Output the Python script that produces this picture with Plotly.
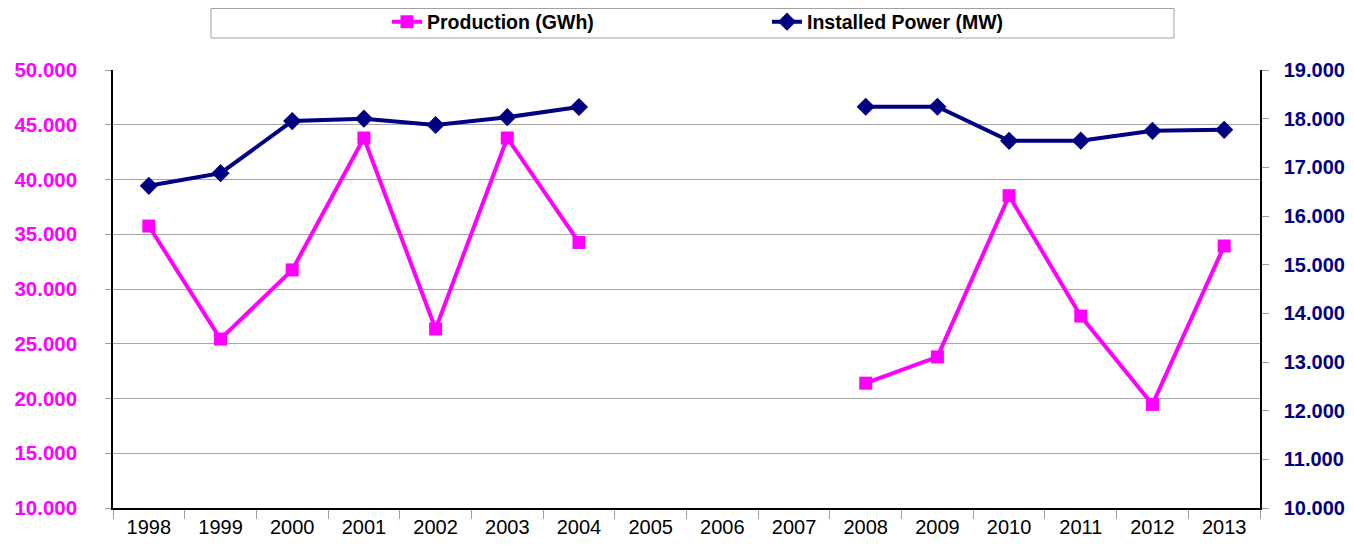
import plotly.graph_objects as go

years = ["1998", "1999", "2000", "2001", "2002", "2003", "2004", "2005",
         "2006", "2007", "2008", "2009", "2010", "2011", "2012", "2013"]
production_gwh = [35750, 25430, 31740, 43790, 26350, 43790, 34250, None,
                  None, None, 21400, 23800, 38520, 27530, 19460, 33930]
installed_mw = [16620, 16880, 17950, 18000, 17870, 18030, 18240, None,
                None, None, 18245, 18245, 17545, 17547, 17750, 17770]

left_ticks = [10000, 15000, 20000, 25000, 30000, 35000, 40000, 45000, 50000]
right_ticks = [10000, 11000, 12000, 13000, 14000, 15000, 16000, 17000, 18000, 19000]

# page has an 8px body margin; figure sized to fit the 1354x546 window
OFF = 8
W, H = 1346, 530
ML, MR, MT, MB = 113 - OFF, 94, 70 - OFF, 30
PW = W - ML - MR
PH = H - MT - MB


def px_x(p):  # page pixel -> paper x
    return (p - OFF - ML) / PW


def px_y(p):  # page pixel -> paper y
    return (H - MB - (p - OFF)) / PH


FONT = "Liberation Sans, Arial, sans-serif"
MAGENTA = "#FF00FF"
NAVY = "#000080"

fig = go.Figure()
fig.add_trace(go.Scatter(
    x=years, y=production_gwh, name="Production (GWh)",
    mode="lines+markers",
    line=dict(color=MAGENTA, width=4),
    marker=dict(symbol="square", size=13, color=MAGENTA),
    connectgaps=False, yaxis="y", legend="legend",
))
fig.add_trace(go.Scatter(
    x=years, y=installed_mw, name="Installed Power (MW)",
    mode="lines+markers",
    line=dict(color=NAVY, width=4),
    marker=dict(symbol="diamond", size=14, color=NAVY),
    connectgaps=False, yaxis="y2", legend="legend2",
))

# legend frame
fig.add_shape(type="rect", xref="paper", yref="paper",
              x0=px_x(211), x1=px_x(1174), y0=px_y(38), y1=px_y(8.5),
              line=dict(color="#a0a0a0", width=1), fillcolor="white", layer="below")

legend_font = dict(family=FONT, size=19.5, color="black", weight="bold")
leg_y = (H - (22 - OFF)) / H

fig.update_layout(
    width=W, height=H,
    margin=dict(l=ML, r=MR, t=MT, b=MB, autoexpand=False),
    paper_bgcolor="white", plot_bgcolor="white",
    separators=",.",
    showlegend=True,
    legend=dict(xref="container", yref="container",
                x=379 / W, y=leg_y, xanchor="left", yanchor="middle",
                font=legend_font, bgcolor="rgba(0,0,0,0)", borderwidth=0),
    legend2=dict(xref="container", yref="container",
                 x=759 / W, y=leg_y, xanchor="left", yanchor="middle",
                 font=legend_font, bgcolor="rgba(0,0,0,0)", borderwidth=0),
    xaxis=dict(
        type="category", categoryorder="array", categoryarray=years,
        range=[-0.5, 15.5], automargin=False,
        showline=True, linecolor="black", linewidth=1.5,
        ticks="outside", tickson="boundaries", ticklen=9, tickcolor="#a0a0a0",
        showgrid=False, zeroline=False,
        tickfont=dict(family=FONT, size=20, color="black"),
    ),
    yaxis=dict(
        range=[10000, 50000], tickvals=left_ticks, tickformat=",d",
        automargin=False,
        showline=True, linecolor="black", linewidth=1.5,
        ticks="outside", ticklen=6, tickcolor="#a0a0a0",
        showgrid=True, gridcolor="#a6a6a6", gridwidth=1, zeroline=False,
        tickfont=dict(family=FONT, size=20.5, color=MAGENTA, weight="bold"),
        ticklabelstandoff=24,
    ),
    yaxis2=dict(
        range=[10000, 19000], tickvals=right_ticks, tickformat=",d",
        overlaying="y", side="right", automargin=False,
        showline=True, linecolor="black", linewidth=1.5,
        ticks="outside", ticklen=7, tickcolor="#a0a0a0",
        showgrid=False, zeroline=False,
        tickfont=dict(family=FONT, size=20, color=NAVY, weight="bold"),
        ticklabelstandoff=11,
    ),
)

fig.write_html("out.html")
